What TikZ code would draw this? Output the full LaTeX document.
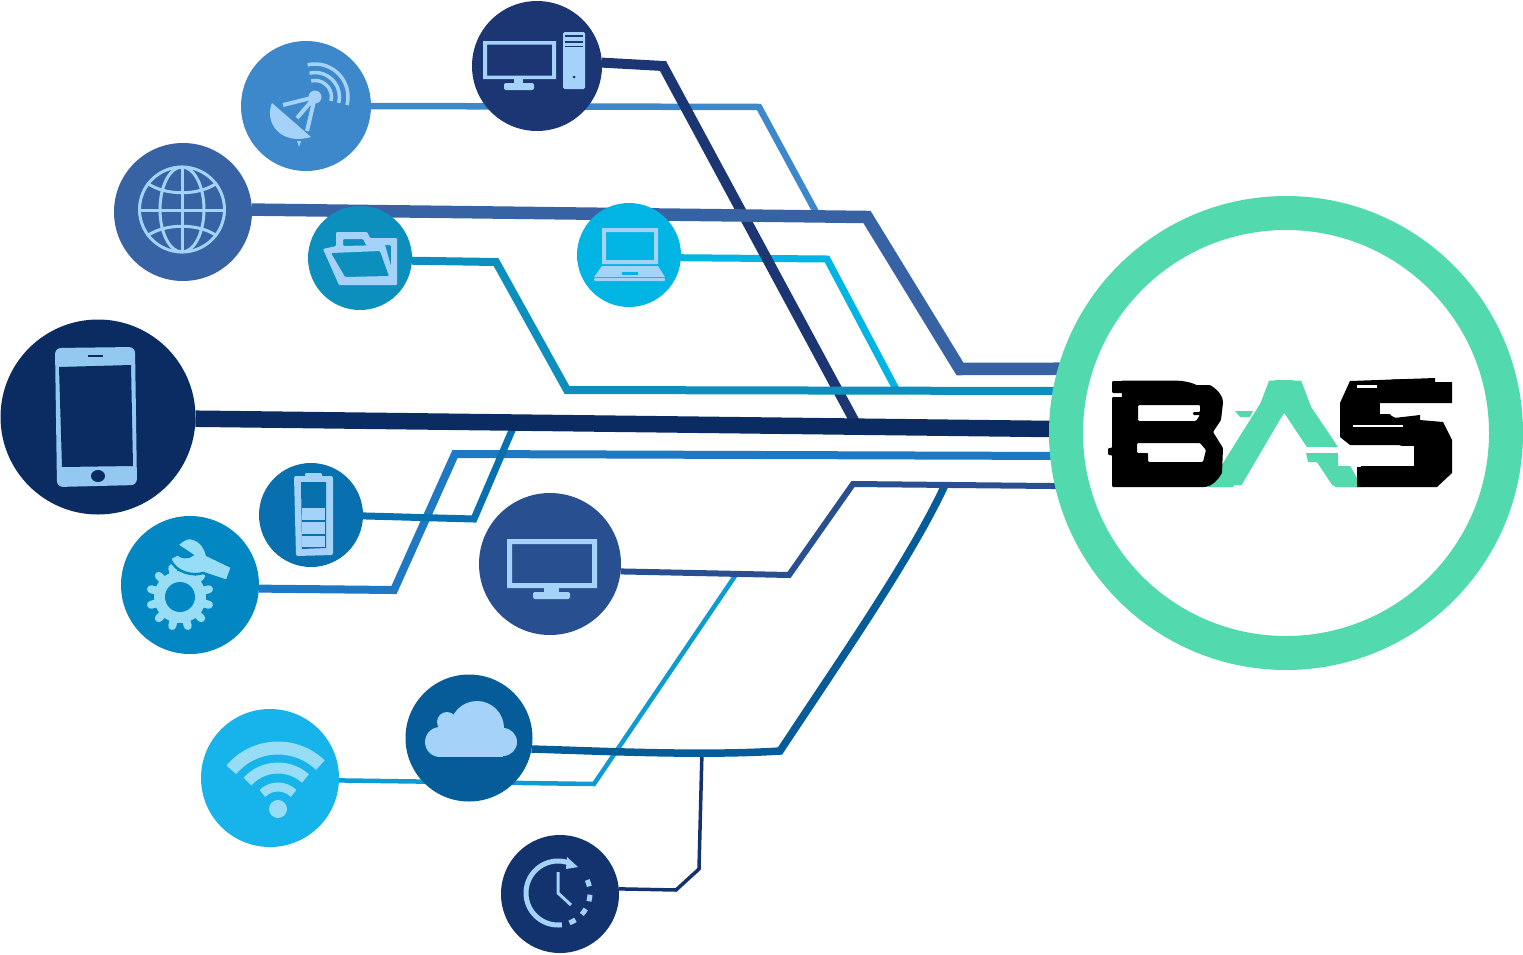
\documentclass[tikz,border=0pt]{standalone}
\usepackage{fontspec}
\newfontfamily\basfont{Poppins}[FakeBold=1.5]
\pgfdeclarelayer{back}
\pgfsetlayers{back,main}
\def\px{1.4226pt}
\definecolor{cdesk}{HTML}{1B3672}
\definecolor{csat}{HTML}{3C88CA}
\definecolor{cglobe}{HTML}{3763A4}
\definecolor{cfold}{HTML}{0D8FBE}
\definecolor{clap}{HTML}{00B4E4}
\definecolor{cphone}{HTML}{0B2C63}
\definecolor{cbatt}{HTML}{0870AE}
\definecolor{cgearb}{HTML}{0287C3}
\definecolor{cgearl}{HTML}{1E78C4}
\definecolor{ctv}{HTML}{285090}
\definecolor{cwifi}{HTML}{17B3EB}
\definecolor{cwifil}{HTML}{0D9CD2}
\definecolor{ccloud}{HTML}{055C99}
\definecolor{cclock}{HTML}{13336F}
\definecolor{cring}{HTML}{52D9AE}
\definecolor{icon}{HTML}{A5D2F8}
\definecolor{iconp}{HTML}{93C8F0}
\definecolor{iconb}{HTML}{96DDF5}
\tikzset{
  disc/.style n args={2}{circle,fill=#2,draw=none,inner sep=0pt,outer sep=0pt,minimum size=#1*\px},
  wire/.style n args={2}{draw=#2,line width=#1*\px,miter limit=10},
  band/.style={line width=#1*\px},
  band/.default=3,
  logotext/.style={inner sep=0pt,outer sep=0pt,font=\basfont\bfseries\fontsize{208}{208}\selectfont}
}
\begin{document}
\begin{tikzpicture}[x=\px,y=-\px]
\useasboundingbox (0,0) rectangle (1523,954);
% discs
\node[disc={130}{csat}] (sat) at (306,106) {};
\node[disc={138}{cglobe}] (globe) at (183,212) {};
\node[disc={104}{cfold}] (fold) at (360,258) {};
\node[disc={104}{clap}] (lap) at (629,255) {};
\node[disc={130}{cdesk}] (desk) at (537,66) {};
\node[disc={195}{cphone}] (phone) at (98,417) {};
\node[disc={104}{cbatt}] (batt) at (311,515) {};
\node[disc={138}{cgearb}] (gear) at (190,585) {};
\node[disc={142}{ctv}] (tv) at (550,564) {};
\node[disc={138}{cwifi}] (wifi) at (270,778) {};
\node[disc={127}{ccloud}] (cloud) at (469,738) {};
\node[disc={118}{cclock}] (clock) at (560,894) {};
\node[circle,draw=cring,line width=34*\px,inner sep=0pt,outer sep=0pt,minimum size=440*\px] (ring) at (1286,433) {};
% free ends of the branch lines
\coordinate (satend) at (817,214);
\coordinate (lapend) at (897,391);
\coordinate (deskend) at (856,424);
\coordinate (battend) at (513,428);
\coordinate (wifiend) at (735,576);
\coordinate (cloudend) at (945,485);
\coordinate (clockend) at (702,751);
\begin{pgfonlayer}{back}
\draw[wire={6.5}{csat}] (sat.east) -- (759,107) -- (satend);
\draw[wire={7}{clap}] (lap.-3) -- (827,259) -- (lapend);
\draw[wire={10}{cdesk}] (desk.3) -- (663,66) -- (deskend);
\draw[wire={12.5}{cglobe}] (globe.2) -- (867,217) -- (960,369) -- (ring.163);
\draw[wire={3.5}{cclock}] (clock.5) -- (676,890) -- (699,869) -- (clockend);
\draw[wire={4.5}{cwifil}] (wifi.-2) -- (594,784) -- (wifiend);
\draw[wire={7.5}{ccloud}] (cloud.-10) .. controls (600,751) and (700,756) .. (780,751) .. controls (840,660) and (910,560) .. (cloudend);
\draw[wire={6}{ctv}] (tv.-6.5) -- (789,575) -- (853,484) -- (ring.194);
\draw[wire={8}{cfold}] (fold.-3.3) -- (496,262) -- (567,390) -- (ring.169.5);
\draw[wire={8}{cgearl}] (gear.-3.3) -- (394,590) -- (455,454) -- (ring.186.5);
\draw[wire={7}{cbatt}] (batt.-1) -- (474,519) -- (battend);
\draw[wire={16.5}{cphone}] (phone.-1) -- (ring.179);
\end{pgfonlayer}
% desktop icon
\fill[icon,even odd rule] (483,41) -- (556,41) -- (556,79) -- (483,79) -- cycle (487,44.5) -- (552,44.5) -- (552,75.5) -- (487,75.5) -- cycle;
\fill[icon] (514,79) rectangle (523,85);
\fill[icon,rounded corners=2*\px] (504,83) rectangle (534,90);
\fill[icon,rounded corners=1.5*\px] (563,32) rectangle (585,89);
\fill[cdesk] (565,35) rectangle (583,37);
\fill[cdesk] (565,40.5) rectangle (583,42.5);
\fill[cdesk] (565,46) rectangle (583,47);
\fill[cdesk] (574,77) circle [radius=1.5];
% satellite icon
\fill[icon] (272,103) .. controls (264,122) and (280,146) .. (311,137) -- cycle;
\fill[icon] (297,141) -- (301,141) -- (299,147) -- cycle;
\draw[icon,band=4] (315,97) -- (283,105) (315,97) -- (297,118) (315,97) -- (307,131);
\fill[icon] (315,97) circle [radius=6.5];
\draw[icon,band=3.5] (315,97) ++(-103:33) arc (-103:14:33);
\draw[icon,band=3.5] (315,97) ++(-103:24.5) arc (-103:14:24.5);
\draw[icon,band=3.5] (315,97) ++(-103:16.5) arc (-103:14:16.5);
% globe icon
\draw[icon,band=3] (182,209.5) circle [radius=42.5];
\draw[icon,band=3] (182,209.5) ellipse [x radius=22,y radius=42.5];
\draw[icon,band=3] (182,167) -- (182,252) (139.5,210) -- (224.5,210);
\draw[icon,band=3] (147,183) .. controls (165,196) and (199,196) .. (217,183);
\draw[icon,band=3] (147,236) .. controls (165,223) and (199,223) .. (217,236);
% folder icon
\fill[icon,even odd rule,rounded corners=1*\px] (323,249) -- (336,246) -- (336,232) -- (367,232) -- (370,238) -- (397,238) -- (397,285) -- (339,285) -- cycle
 (331,253) -- (380,251) -- (389,276) -- (345,277) -- cycle
 (343,246) -- (343,239) -- (363,239) -- (366,245) -- (391,245) -- (391,266) -- (385,245) -- cycle;
% laptop icon
\fill[icon,even odd rule] (602,228) rectangle (658,264) (606,232) rectangle (654,260);
\fill[icon] (602,266) -- (658,266) -- (665,277) -- (594,277) -- cycle;
\fill[icon,rounded corners=1*\px] (594,278) rectangle (665,281);
\fill[clap] (622,272) rectangle (638,275);
% phone icon
\fill[iconp,rounded corners=6*\px] (55,348) -- (135,347) -- (137,485) -- (57,487) -- cycle;
\fill[cphone] (59,367) -- (131,365) -- (133,466) -- (62,467) -- cycle;
\fill[cphone] (88,355) rectangle (103,357);
\fill[cphone] (98,476) ellipse [x radius=7,y radius=6];
% battery icon
\fill[icon,rounded corners=2*\px] (294,476) -- (333,476) -- (333,555) -- (296,556) -- cycle;
\fill[icon,rounded corners=1*\px] (305,473) rectangle (322,478);
\fill[cbatt] (301,482) -- (326,482) -- (326,548) -- (302,549) -- cycle;
\fill[icon] (302,508) rectangle (325,520);
\fill[icon] (302,522) rectangle (325,534);
\fill[icon] (302,536) rectangle (325,547);
% gear icon
\fill[iconb] (180,597) circle [radius=26];
\foreach \a in {15,45,...,345} {\draw[iconb,line width=8*\px,line cap=round] (180,597) ++(\a:24) -- ++(\a:6);}
\fill[cgearb] (180,597) circle [radius=15];
\fill[iconb,draw=cgearb,line width=2.5*\px] (177,545) .. controls (182,540) and (186,538) .. (190,538) .. controls (199,539) and (205,546) .. (207,555) -- (232,567) -- (227,581) -- (203,573) .. controls (195,576) and (175,574) .. (170,558) -- (178,554) .. controls (181,558) and (189,558) .. (192,555) -- cycle;
% tv icon
\fill[icon,even odd rule] (507,539) rectangle (597,588) (512,544) rectangle (592,583);
\fill[icon] (544,588) rectangle (559,594);
\fill[icon,rounded corners=2*\px] (533,592) rectangle (570,599);
% wifi icon
\fill[iconb] (278,809) circle [radius=9];
\draw[iconb,band=9] (278,809) ++(225:22) arc (225:315:22);
\draw[iconb,band=11] (278,809) ++(222:41) arc (222:312:41);
\draw[iconb,band=13] (278,809) ++(220:61) arc (220:314:61);
% cloud icon
\fill[icon] (477,728) circle [radius=27];
\fill[icon] (447,722) circle [radius=10];
\fill[icon] (440,742) circle [radius=15];
\fill[icon] (503,742) circle [radius=14];
\fill[icon] (440,735) rectangle (503,757);
% clock icon
\draw[icon,band=5] (558,893) ++(83:32) arc (83:292:32);
\fill[icon] (567,857) -- (578,867) -- (566,869) -- cycle;
\draw[icon,band=3] (558,872) -- (558,893) -- (571,905);
\foreach \a in {-18,9,36,63} {\draw[icon,band=5] (558,893) ++(\a-6:32) arc (\a-6:\a+6:32);}
% logo letter A: glyph, with its crossbar opened and leg breaks
\node[logotext,text=cring,xscale=1.05] (A) at (1285,433) {A};
\fill[white] (1284,413) -- (1240,488) -- (1334,488) -- cycle;
\fill[cring] (1275,380) -- (1293,380) -- (1338,447) -- (1323,447) -- (1284,413) -- (1233,487) -- (1208,487) -- cycle;
\fill[white] (1298,447) rectangle (1345,453);
\fill[cring] (1306,453) -- (1343,453) -- (1362,487) -- (1335,487) -- (1322,462) -- (1308,462) -- cycle;
\fill[cring] (1235,411) -- (1253,411) -- (1250,417) -- (1240,417) -- cycle;
% logo letter B: glyph, squared off and cut
\node[logotext,text=black,xscale=1.1] (B) at (1166,433) {B};
\fill[white] (1130,400) rectangle (1207,470);
\fill[black,even odd rule,rounded corners=1*\px] (1112,381) -- (1182,381) -- (1182,385) -- (1210,385) .. controls (1218,390) and (1223,396) .. (1223,403) -- (1221,420) -- (1213,432) -- (1223,448) -- (1222,473) .. controls (1218,480) and (1212,486) .. (1205,487) -- (1112,487) -- (1112,455) -- (1108,455) -- (1108,448) -- (1112,448) -- (1112,397) -- (1123,397) -- (1123,393) -- (1112,393) -- cycle
 (1138,405) -- (1200,405) -- (1200,412) -- (1193,412) -- (1193,415) -- (1200,415) -- (1196,421) -- (1138,421) -- cycle
 (1137,443) -- (1200,443) -- (1206,450) -- (1203,462) -- (1148,462) -- (1148,453) -- (1137,453) -- cycle;
% logo letter S: glyph, squared off and cut
\node[logotext,text=black,xscale=1.05] (S) at (1400,433) {S};
\fill[white] (1380,403) rectangle (1456,414);
\fill[white] (1338,446) rectangle (1414,466);
\fill[black] (1340,403) -- (1350,381) -- (1435,378) -- (1435,382) -- (1452,382) -- (1452,403) -- (1377,403) -- (1377,420) -- (1420,415) -- (1420,420) -- (1443,422) -- (1452,440) -- (1452,473) -- (1437,487) -- (1357,487) -- (1357,467) -- (1415,467) -- (1415,440) -- (1407,445) -- (1350,445) -- (1340,437) -- cycle;
\fill[white] (1353,425) rectangle (1403,427);
\fill[white] (1357,385) rectangle (1377,388);
\end{tikzpicture}
\end{document}
